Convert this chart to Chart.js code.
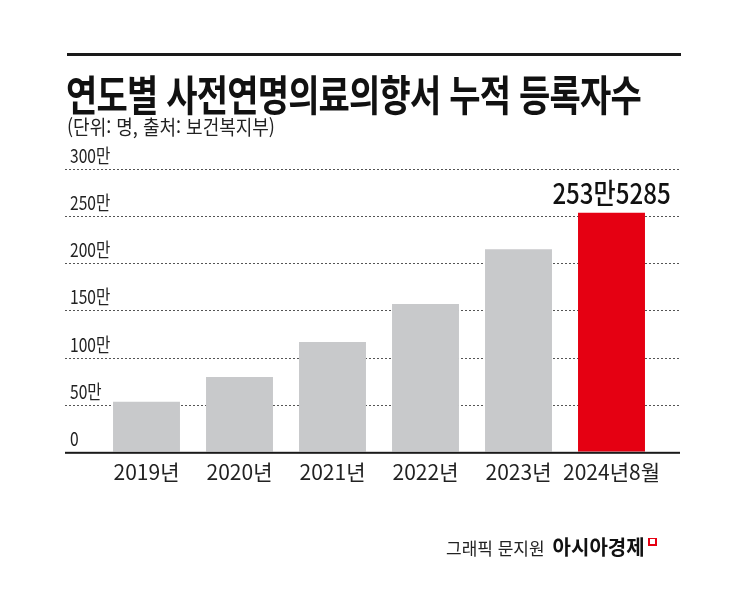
<!DOCTYPE html>
<html lang="ko">
<head>
<meta charset="utf-8">
<script src="https://cdn.jsdelivr.net/npm/chart.js@4"></script>
<style>
  body { margin: 0; background: #fff; }
  #wrap { position: relative; width: 745px; height: 596px; overflow: hidden; font-family: "Noto Sans CJK KR", "Noto Sans", sans-serif; color: #111; }
  #chart { position: absolute; left: 0; top: 0; }
  .rule { position: absolute; left: 67px; top: 53px; width: 614px; height: 3px; background: #1a1a1a; }
  .title { position: absolute; left: 66px; top: 72px; font-size: 42px; font-weight: 700; line-height: 1; white-space: nowrap; transform: scaleX(0.81); transform-origin: left top; letter-spacing: -1px; }
  .sub { position: absolute; left: 67px; top: 117px; font-size: 20px; line-height: 1; white-space: nowrap; transform: scaleX(0.9); transform-origin: left top; color: #222; }
  .foot { position: absolute; left: 446px; top: 537px; white-space: nowrap; line-height: 1; }
  .foot .who { font-size: 17px; color: #222; }
  .foot .brand { font-size: 20px; font-weight: 700; margin-left: 8px; color: #111; }
  .foot .mark { display: inline-block; width: 5px; height: 5px; border: 2px solid #e60012; border-top-width: 1px; vertical-align: top; margin-left: 3px; margin-top: 1px; }
</style>
</head>
<body>
<div id="wrap">
  <canvas id="chart" width="745" height="596"></canvas>
  <div class="rule"></div>
  <div class="title">연도별 사전연명의료의향서 누적 등록자수</div>
  <div class="sub">(단위: 명, 출처: 보건복지부)</div>
  <div class="foot"><span class="who">그래픽 문지원</span><span class="brand">아시아경제</span><span class="mark"></span></div>
</div>
<script>
const years = ["2019년", "2020년", "2021년", "2022년", "2023년", "2024년8월"];
const registered = [530000, 794000, 1165000, 1568000, 2150000, 2535285];
const valueLabels = ["", "", "", "", "", "253만5285"];
const yTicks = [0, 500000, 1000000, 1500000, 2000000, 2500000, 3000000];

const barColors = registered.map((v, i) => i === registered.length - 1 ? "#e50012" : "#c8c9cb");

function tickText(v) {
  return v === 0 ? "0" : (v / 10000) + "만";
}

// dotted grid + tick labels drawn across the full width
const gridPlugin = {
  id: "gridPlugin",
  beforeDatasetsDraw(chart) {
    const ctx = chart.ctx;
    const y = chart.scales.y;
    ctx.save();
    ctx.strokeStyle = "#555";
    ctx.lineWidth = 1;
    ctx.setLineDash([2, 2]);
    yTicks.forEach(t => {
      if (t === 0) return;
      const py = Math.round(y.getPixelForValue(t)) + 0.5;
      ctx.beginPath();
      ctx.moveTo(65, py);
      ctx.lineTo(680, py);
      ctx.stroke();
    });
    ctx.setLineDash([]);
    ctx.fillStyle = "#222";
    ctx.font = "19px 'Noto Sans CJK KR', sans-serif";
    ctx.textBaseline = "alphabetic";
    yTicks.forEach(t => {
      const py = y.getPixelForValue(t);
      ctx.save();
      ctx.translate(70, py - 6);
      ctx.scale(0.82, 1);
      ctx.fillText(tickText(t), 0, 0);
      ctx.restore();
    });
    ctx.restore();
  },
  afterDatasetsDraw(chart) {
    const ctx = chart.ctx;
    const y = chart.scales.y;
    const meta = chart.getDatasetMeta(0);
    ctx.save();
    // baseline
    const by = y.getPixelForValue(0);
    ctx.fillStyle = "#1a1a1a";
    ctx.fillRect(65, by, 615, 2);
    // value label
    ctx.fillStyle = "#111";
    ctx.font = "500 28px 'Noto Sans CJK KR', sans-serif";
    ctx.textAlign = "center";
    ctx.textBaseline = "alphabetic";
    meta.data.forEach((bar, i) => {
      if (!valueLabels[i]) return;
      ctx.save();
      ctx.translate(bar.x, bar.y - 9);
      ctx.scale(0.86, 1);
      ctx.fillText(valueLabels[i], 0, 0);
      ctx.restore();
    });
    ctx.restore();
  }
};

new Chart(document.getElementById("chart"), {
  type: "bar",
  data: {
    labels: years,
    datasets: [{
      data: registered,
      backgroundColor: barColors,
      barPercentage: 0.72,
      categoryPercentage: 1
    }]
  },
  options: {
    responsive: false,
    animation: false,
    layout: { padding: { left: 100, right: 87, top: 169, bottom: 103 } },
    plugins: { legend: { display: false }, tooltip: { enabled: false } },
    scales: {
      x: {
        grid: { display: false, drawTicks: false },
        border: { display: false },
        ticks: {
          color: "#222", padding: 8, maxRotation: 0, minRotation: 0, autoSkip: false,
          font: { size: 21, family: "'Noto Sans CJK KR', sans-serif" }
        }
      },
      y: {
        display: false,
        min: 0,
        max: 3000000,
        ticks: { stepSize: 500000 }
      }
    }
  },
  plugins: [gridPlugin]
});
</script>
</body>
</html>
